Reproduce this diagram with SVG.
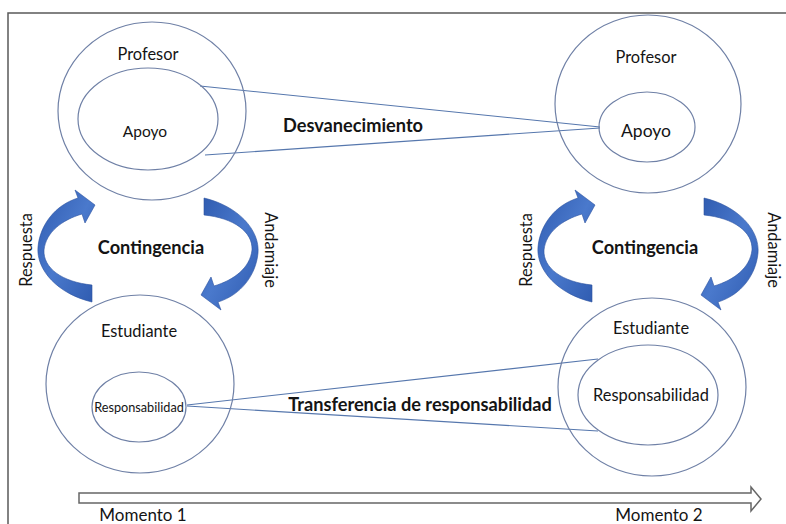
<svg xmlns="http://www.w3.org/2000/svg" width="786" height="524" viewBox="0 0 786 524">
<defs>
<style>
.bg{fill:#ffffff}
.frame{fill:none;stroke:#5a5a5a;stroke-width:1.5}
.ring{fill:none;stroke:#6f80a6;stroke-width:1.2}
.link{fill:none;stroke:#5677ad;stroke-width:1.1}
.lbl{font-family:Lato,"Open Sans","Liberation Sans",sans-serif;font-size:16.4px;fill:#141414;text-anchor:middle}
.bold{font-weight:bold;font-size:18.2px}
.curve{fill:url(#blue);stroke:#2c53a0;stroke-width:0.6}
.time{fill:#ffffff;stroke:#666666;stroke-width:1.5}
</style>
<linearGradient id="blue" x1="0" y1="0" x2="1" y2="1">
<stop offset="0" stop-color="#2f5bb0"/>
<stop offset="0.5" stop-color="#4a79cc"/>
<stop offset="1" stop-color="#2f5bb0"/>
</linearGradient>
<path id="crescent" d="M 92 302 C 58 294 36 270 38 247 C 40 225 55 205 78 198 L 75 190 L 95 205 L 85 223 L 82 214 C 62 220 46 232 44 250 C 43 268 62 282 92 285 Z"/>
</defs>
<rect class="bg" x="0" y="0" width="786" height="524"/>
<rect class="frame" x="8" y="13" width="800" height="540"/>

<g id="connectors">
<line class="link" x1="200" y1="86" x2="600" y2="127"/>
<line class="link" x1="205" y1="155" x2="600" y2="128"/>
<line class="link" x1="187" y1="405" x2="598" y2="359"/>
<line class="link" x1="187" y1="406" x2="598" y2="431"/>
</g>

<g id="profesor-1">
<ellipse class="ring" cx="152" cy="111" rx="94" ry="89"/>
<text class="lbl" x="148" y="60">Profesor</text>
</g>
<g id="apoyo-1">
<ellipse class="ring" cx="148" cy="119" rx="70" ry="51"/>
<text class="lbl" x="145" y="137" style="font-size:15.5px">Apoyo</text>
</g>

<g id="profesor-2">
<ellipse class="ring" cx="648" cy="104" rx="93" ry="89"/>
<text class="lbl" x="646" y="63">Profesor</text>
</g>
<g id="apoyo-2">
<ellipse class="ring" cx="647" cy="127" rx="48" ry="35"/>
<text class="lbl" x="646" y="137" style="font-size:17.5px">Apoyo</text>
</g>

<g id="estudiante-1">
<ellipse class="ring" cx="140" cy="384" rx="94" ry="89"/>
<text class="lbl" x="139" y="337">Estudiante</text>
</g>
<g id="responsabilidad-1">
<ellipse class="ring" cx="139" cy="407" rx="47" ry="35"/>
<text class="lbl" x="139" y="412" style="font-size:12.7px">Responsabilidad</text>
</g>

<g id="estudiante-2">
<ellipse class="ring" cx="652" cy="387" rx="94" ry="89"/>
<text class="lbl" x="651" y="334">Estudiante</text>
</g>
<g id="responsabilidad-2">
<ellipse class="ring" cx="648" cy="395" rx="70" ry="50"/>
<text class="lbl" x="651" y="401" style="font-size:16.4px">Responsabilidad</text>
</g>

<g id="desvanecimiento">
<text class="lbl bold" x="353" y="132">Desvanecimiento</text>
</g>
<g id="transferencia">
<text class="lbl bold" x="420" y="411">Transferencia de responsabilidad</text>
</g>

<g id="contingencia-1">
<use href="#crescent" class="curve"/>
<use href="#crescent" class="curve" transform="rotate(180 148 250)"/>
<text class="lbl bold" x="151" y="254">Contingencia</text>
<text class="lbl" transform="translate(32 250) rotate(-90)">Respuesta</text>
<text class="lbl" transform="translate(265 250) rotate(90)">Andamiaje</text>
</g>

<g id="contingencia-2">
<use href="#crescent" class="curve" transform="translate(500 0)"/>
<use href="#crescent" class="curve" transform="translate(500 0) rotate(180 148 250)"/>
<text class="lbl bold" x="645" y="254">Contingencia</text>
<text class="lbl" transform="translate(532 250) rotate(-90)">Respuesta</text>
<text class="lbl" transform="translate(768 250) rotate(90)">Andamiaje</text>
</g>

<g id="timeline">
<path class="time" d="M 79 493 L 751 493 L 751 487 L 761 499 L 751 511 L 751 503 L 79 503 Z"/>
<text class="lbl" x="143" y="521" style="font-size:17px">Momento 1</text>
<text class="lbl" x="659" y="521" style="font-size:17px">Momento 2</text>
</g>
</svg>
